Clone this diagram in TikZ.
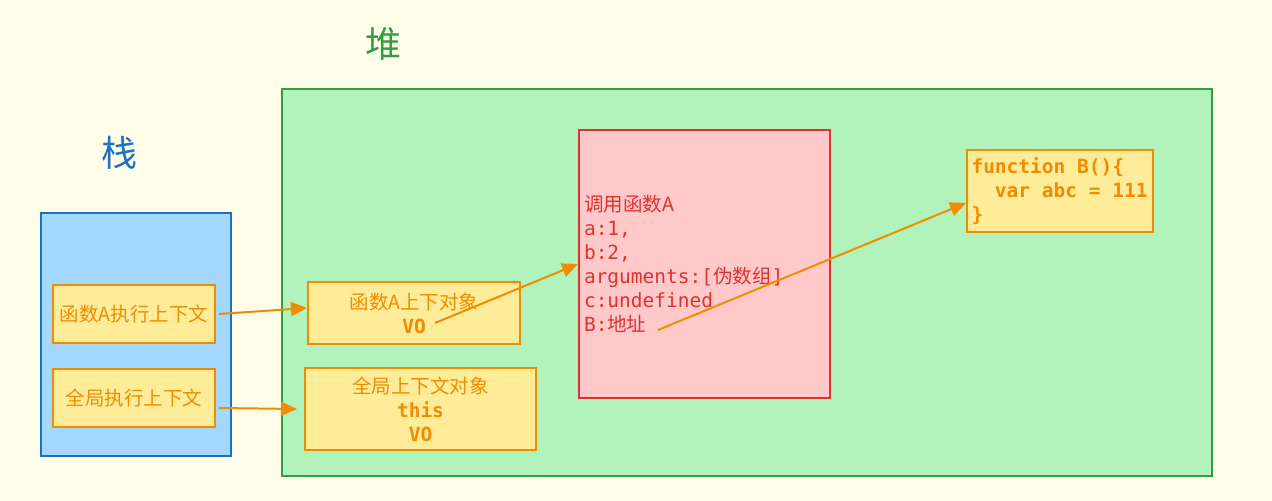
\documentclass[tikz,border=0pt]{standalone}
\usepackage{fontspec}
\setmonofont{DejaVu Sans Mono}
\newfontfamily\cjk{Noto Sans CJK SC}
\usetikzlibrary{arrows.meta}

\definecolor{bg}{HTML}{FFFDE8}
\definecolor{heapfill}{HTML}{B2F2BB}
\definecolor{heapline}{HTML}{2F9E44}
\definecolor{stackfill}{HTML}{A5D8FF}
\definecolor{stackline}{HTML}{1971C2}
\definecolor{ctxfill}{HTML}{FFEC99}
\definecolor{ctxline}{HTML}{F08C00}
\definecolor{scopefill}{HTML}{FFC9C9}
\definecolor{scopeline}{HTML}{E03131}

\begin{document}
\begin{tikzpicture}[x=0.5pt, y=-0.5pt,
    area/.style={line width=1pt, inner sep=0pt},
    ctxbox/.style={draw=ctxline, fill=ctxfill, text=ctxline, line width=1pt,
      inner sep=0pt, align=center, font=\cjk\fontsize{9.75pt}{12pt}\selectfont},
    ptr/.style={draw=ctxline, line width=1pt, -{Triangle[length=8pt, width=7pt]}}]
            % Fondo
            \fill[bg] (0,0) rectangle (1272,501);
            \useasboundingbox (0,0) rectangle (1272,501);

            % Titulos
            \node[text=heapline, font=\cjk\fontsize{18pt}{18pt}\selectfont] (heapTitle) at (383,44) {堆};
            \node[text=stackline, font=\cjk\fontsize{18pt}{18pt}\selectfont] (stackTitle) at (119,153) {栈};

            % Areas
            \node[area, draw=heapline, fill=heapfill, minimum width=465pt, minimum height=193.5pt] (heap) at (747,282.5) {};
            \node[area, draw=stackline, fill=stackfill, minimum width=95pt, minimum height=121.5pt] (stack) at (136,334.5) {};

            % Contextos en la pila
            \node[ctxbox, minimum width=81pt, minimum height=29pt] (ctxA) at (134,314) {函数A执行上下文};
            \node[ctxbox, minimum width=81pt, minimum height=29pt] (ctxG) at (134,398) {全局执行上下文};

            % Objetos en el heap
            \node[ctxbox, minimum width=106pt, minimum height=31pt] (voA) at (414,313)
                {函数A上下对象\\{\ttfamily\bfseries VO}};
            \node[ctxbox, minimum width=115.5pt, minimum height=41pt] (voG) at (420.5,409)
                {全局上下文对象\\{\ttfamily\bfseries this}\\{\ttfamily\bfseries VO}};
            \node[ctxbox, draw=scopeline, fill=scopefill, text=scopeline, align=left,
                  font=\ttfamily\fontsize{9.75pt}{12pt}\selectfont, inner xsep=2.5pt,
                  text width=120.5pt, minimum width=125.5pt, minimum height=134pt] (scopeA) at (704.5,264)
                {{\cjk 调用函数A}\\a:1,\\b:2,\\arguments:[{\cjk 伪数组}]\\c:undefined\\B:{\cjk 地址}};
            \node[ctxbox, align=left, font=\ttfamily\bfseries\fontsize{9.75pt}{12pt}\selectfont,
                  inner xsep=2.25pt, text width=88.5pt, minimum width=93pt, minimum height=41pt] (funcB) at (1060,191)
                {\spaceskip=0.602em\relax function B()\{\\\phantom{xx}var abc = 111\\\}};

            % Punteros
            \coordinate (voPtr) at (435,323);
            \coordinate (addrPtr) at (658,330);
            \draw[ptr] ([xshift=1.5pt]ctxA.east) -- ([yshift=2.5pt]voA.west);
            \draw[ptr] ([xshift=1.5pt, yshift=-5pt]ctxG.east) -- ([xshift=-3.5pt]voG.west);
            \draw[ptr] (voPtr) -- (scopeA.west);
            \draw[ptr] (addrPtr) -- ([yshift=-6pt]funcB.west);
\end{tikzpicture}
\end{document}
